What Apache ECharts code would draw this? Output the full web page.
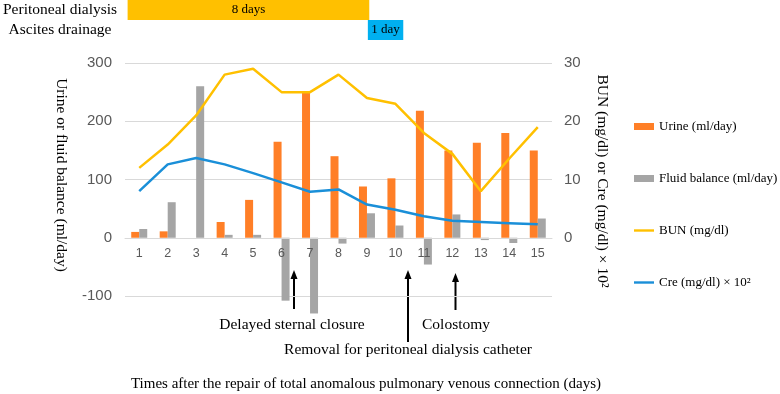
<!DOCTYPE html>
<html><head><meta charset="utf-8">
<script src="https://cdn.jsdelivr.net/npm/echarts@6/dist/echarts.min.js"></script>
<style>html,body{margin:0;padding:0;background:#fff}#c{width:780px;height:394px}</style>
</head><body><div id="c"></div>
<script>
var days = ['1','2','3','4','5','6','7','8','9','10','11','12','13','14','15'];
var urine = [10, 11, 0, 27, 65, 165, 250, 140, 88, 102, 218, 150, 163, 180, 150];
var fluidBalance = [15, 61, 260, 5, 5, -108, -130, -10, 42, 21, -46, 40, -4, -9, 33];
var bun = [12, 16, 21, 28, 29, 25, 25, 28, 24, 23, 18, 14.4, 8, 13.6, 19];
var cre = [8.0, 12.6, 13.7, 12.6, 11.1, 9.5, 7.9, 8.3, 5.7, 4.8, 3.7, 2.9, 2.7, 2.5, 2.3];
var leftTicks = [-100, 0, 100, 200, 300];
var rightTicks = [0, 10, 20, 30];
var timelineRows = ['Peritoneal dialysis', 'Ascites drainage'];
var timelineStart = [0.52, 9.0];
var timelineEnd = [9.05, 10.25];
var timelineLabels = ['8 days', '1 day'];
var timelineColors = ['#FFC000', '#00B0F0'];

var serif = '"Liberation Serif", "Times New Roman", serif';
var sans = '"Liberation Sans", Arial, sans-serif';
var chart = echarts.init(document.getElementById('c'));

var GRID_TOP = 63, GRID_BOTTOM = 98, H = 394;
var leftMin = leftTicks[0], leftMax = leftTicks[leftTicks.length - 1];
var zeroOffset = (H - GRID_TOP - GRID_BOTTOM) * (0 - leftMin) / (leftMax - leftMin);

var timelineData = timelineRows.map(function (r, i) {
  return [timelineStart[i], timelineEnd[i], i, timelineLabels[i]];
});

function arrow(x, yTip, yBottom) {
  return {
    type: 'group', children: [
      { type: 'line', shape: { x1: x, y1: yTip + 6, x2: x, y2: yBottom }, style: { stroke: '#000', lineWidth: 2 } },
      { type: 'polygon', shape: { points: [[x, yTip], [x - 3.5, yTip + 9], [x + 3.5, yTip + 9]] }, style: { fill: '#000' } }
    ]
  };
}
var lineIcon = 'path://M0,0 L0,0 M0,7 L0,7 M0,2.3 L20,2.3 L20,4.7 L0,4.7 Z';

chart.setOption({
  animation: false,
  grid: [
    { left: 125, width: 427, top: GRID_TOP, bottom: GRID_BOTTOM, containLabel: false },
    { left: 125, width: 427, top: 0, height: 40, containLabel: false }
  ],
  legend: {
    orient: 'vertical', left: 629, top: 115, itemGap: 39, itemWidth: 20, itemHeight: 7,
    textStyle: { fontFamily: serif, fontSize: 13, color: '#000' },
    data: [
      { name: 'Urine (ml/day)', icon: 'rect' },
      { name: 'Fluid balance (ml/day)', icon: 'rect' },
      { name: 'BUN (mg/dl)', icon: lineIcon },
      { name: 'Cre (mg/dl) × 10²', icon: lineIcon }
    ]
  },
  xAxis: [
    {
      type: 'category', data: days, gridIndex: 0, offset: -zeroOffset, z: 4,
      axisLine: { onZero: false, lineStyle: { color: '#D9D9D9' } },
      axisTick: { show: false },
      axisLabel: { color: '#595959', fontFamily: sans, fontSize: 12.5, margin: 9 }
    },
    { type: 'value', gridIndex: 1, min: 0.5, max: 15.5, show: false }
  ],
  yAxis: [
    {
      type: 'value', gridIndex: 0, min: leftMin, max: leftMax, interval: 100,
      axisLine: { show: false }, axisTick: { show: false },
      axisLabel: { color: '#595959', fontFamily: sans, fontSize: 15, margin: 13 },
      splitLine: { lineStyle: { color: '#D9D9D9', width: 1 } }
    },
    {
      type: 'value', gridIndex: 0, min: -10, max: rightTicks[rightTicks.length - 1], interval: 10, position: 'right',
      axisLine: { show: false }, axisTick: { show: false }, splitLine: { show: false },
      axisLabel: { color: '#595959', fontFamily: sans, fontSize: 15, margin: 12,
        formatter: function (v) { return v < 0 ? '' : String(v); } }
    },
    {
      type: 'category', gridIndex: 1, data: timelineRows, inverse: true,
      axisLine: { show: false }, axisTick: { show: false }, splitLine: { show: false },
      axisLabel: { interval: 0, color: '#000', fontFamily: serif, fontSize: 15.5, align: 'center', margin: 67 }
    }
  ],
  series: [
    { name: 'Urine (ml/day)', type: 'bar', data: urine, barWidth: 8, barGap: '0%', clip: false,
      itemStyle: { color: '#FF7F27' } },
    { name: 'Fluid balance (ml/day)', type: 'bar', data: fluidBalance, barWidth: 8, barGap: '0%', clip: false,
      itemStyle: { color: '#A5A5A5' } },
    { name: 'BUN (mg/dl)', type: 'line', yAxisIndex: 1, data: bun, symbol: 'none',
      lineStyle: { color: '#FFC000', width: 2.5 }, itemStyle: { color: '#FFC000' }, z: 5 },
    { name: 'Cre (mg/dl) × 10²', type: 'line', yAxisIndex: 1, data: cre, symbol: 'none',
      lineStyle: { color: '#1A8FD8', width: 2.5 }, itemStyle: { color: '#1A8FD8' }, z: 5 },
    {
      type: 'custom', xAxisIndex: 1, yAxisIndex: 2, data: timelineData,
      renderItem: function (params, api) {
        var s = api.coord([api.value(0), api.value(2)]);
        var e = api.coord([api.value(1), api.value(2)]);
        var h = api.size([0, 1])[1];
        var i = params.dataIndex;
        return {
          type: 'rect',
          shape: { x: s[0], y: s[1] - h / 2, width: e[0] - s[0], height: h },
          style: { fill: timelineColors[i] },
          textContent: { style: { text: timelineLabels[i], fontFamily: serif, fontSize: 13, fill: '#000' } },
          textConfig: { position: 'inside' }
        };
      }
    }
  ],
  graphic: [
    { type: 'text', x: 61, y: 175, rotation: -Math.PI / 2,
      style: { text: 'Urine or fluid balance (ml/day)', fontFamily: serif, fontSize: 15.5, fill: '#000', align: 'center', verticalAlign: 'middle' } },
    { type: 'text', x: 602, y: 181, rotation: -Math.PI / 2,
      style: { text: 'BUN (mg/dl) or Cre (mg/dl) × 10²', fontFamily: serif, fontSize: 15.5, fill: '#000', align: 'center', verticalAlign: 'middle' } },
    { type: 'text', x: 366, y: 384,
      style: { text: 'Times after the repair of total anomalous pulmonary venous connection (days)', fontFamily: serif, fontSize: 15, fill: '#000', align: 'center', verticalAlign: 'middle' } },
    arrow(294, 270, 309),
    arrow(408, 270, 342),
    arrow(455.5, 273, 310),
    { type: 'text', x: 292, y: 325,
      style: { text: 'Delayed sternal closure', fontFamily: serif, fontSize: 15.5, fill: '#000', align: 'center', verticalAlign: 'middle' } },
    { type: 'text', x: 456, y: 325,
      style: { text: 'Colostomy', fontFamily: serif, fontSize: 15.5, fill: '#000', align: 'center', verticalAlign: 'middle' } },
    { type: 'text', x: 408, y: 350,
      style: { text: 'Removal for peritoneal dialysis catheter', fontFamily: serif, fontSize: 15.5, fill: '#000', align: 'center', verticalAlign: 'middle' } }
  ]
});
</script>
</body></html>
